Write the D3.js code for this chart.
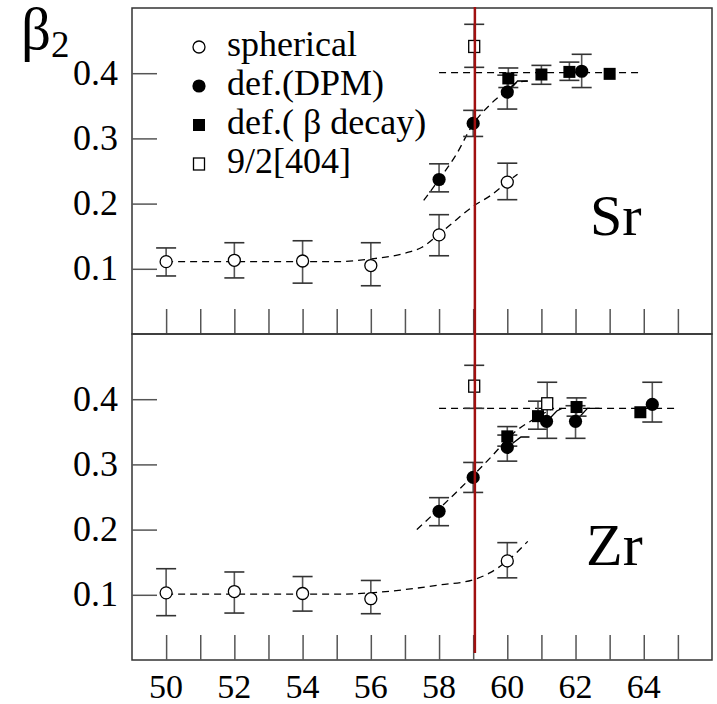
<!DOCTYPE html>
<html><head><meta charset="utf-8">
<script src="https://cdn.jsdelivr.net/npm/d3@7"></script>
<style>body{margin:0;background:#fff;font-family:"Liberation Serif"}svg{display:block}</style>
</head><body><svg id="c" width="717" height="704" font-family="Liberation Serif">
<text x="21" y="49" font-family="Liberation Serif"><tspan font-size="59">β</tspan><tspan font-size="37" dy="8">2</tspan></text>
</svg>
<script>
// ---------- data ----------
const xTicks = d3.range(50, 66);
const xLabels = [50, 52, 54, 56, 58, 60, 62, 64];
const yTicks = [0.1, 0.2, 0.3, 0.4];
const redLineN = 59.05;
const legendItems = ["spherical", "def.(DPM)", "def.( β decay)", "9/2[404]"];
const legendSymbols = ["openCircle", "filledCircle", "filledSquare", "openSquare"];

// Sr panel
const srSpherical = [
  {n:50, b:0.111, lo:0.089, hi:0.132}, {n:52, b:0.113, lo:0.086, hi:0.140},
  {n:54, b:0.112, lo:0.078, hi:0.143}, {n:56, b:0.105, lo:0.074, hi:0.140},
  {n:58, b:0.152, lo:0.120, hi:0.183}, {n:60, b:0.233, lo:0.206, hi:0.262}];
const srDPM = [
  {n:58, b:0.237, lo:0.218, hi:0.261}, {n:59, b:0.323, lo:0.303, hi:0.343},
  {n:60, b:0.371, lo:0.345, hi:0.397}, {n:62.18, b:0.403, lo:0.378, hi:0.429}];
const srBeta = [
  {n:60.03, b:0.392, lo:0.378, hi:0.408}, {n:61, b:0.398, lo:0.383, hi:0.412},
  {n:61.82, b:0.402, lo:0.389, hi:0.417}, {n:63, b:0.399}];
const sr404 = [{n:59.03, b:0.441, lo:0.409, hi:0.475}];
const srSphFit = [[50,0.111],[55,0.111],[56,0.115],[57,0.124],[57.5,0.133],[58,0.153],[58.5,0.175],[59,0.196],[59.5,0.212],[60,0.233],[60.3,0.245]];
const srDefFit = [[57.55,0.205],[58,0.237],[58.5,0.275],[59,0.322],[59.5,0.352],[60,0.374],[60.3,0.386],[60.6,0.388]];
const srPlateau = [[58,0.401],[63.85,0.401]];
const srTails = [[[60.1,0.376],[60.3,0.388],[60.6,0.388]]];

// Zr panel
const zrSpherical = [
  {n:50, b:0.103, lo:0.068, hi:0.140}, {n:52, b:0.105, lo:0.072, hi:0.135},
  {n:54, b:0.102, lo:0.075, hi:0.128}, {n:56, b:0.094, lo:0.071, hi:0.122},
  {n:60, b:0.152, lo:0.126, hi:0.180}];
const zrDPM = [
  {n:58, b:0.228, lo:0.206, hi:0.249}, {n:59, b:0.280, lo:0.257, hi:0.303},
  {n:60, b:0.326, lo:0.305, hi:0.345}, {n:61.15, b:0.366},
  {n:62, b:0.366, lo:0.340, hi:0.390}, {n:64.25, b:0.392, lo:0.365, hi:0.426}];
const zrBeta = [
  {n:60, b:0.343, lo:0.328, hi:0.358}, {n:60.9, b:0.374, lo:0.354, hi:0.397},
  {n:62.03, b:0.388, lo:0.374, hi:0.402}, {n:63.9, b:0.380}];
const zr404 = [{n:59.03, b:0.420, lo:0.386, hi:0.452}, {n:61.17, b:0.393, lo:0.340, hi:0.426}];
const zrSphFit = [[50,0.101],[55,0.101],[56,0.103],[57,0.108],[58,0.115],[59,0.123],[59.5,0.134],[60,0.152],[60.6,0.182]];
const zrDefFit = [[57.35,0.2],[58,0.232],[58.5,0.257],[59,0.283],[59.5,0.31],[60.2,0.349],[60.8,0.37],[61.3,0.385]];
const zrPlateau = [[58,0.386],[65,0.386]];
const zrTails = [[[60.15,0.332],[60.4,0.342],[60.65,0.342]],
                 [[61.2,0.368],[61.45,0.382],[61.6,0.386]],
                 [[62.1,0.372],[62.35,0.386],[62.7,0.386]]];

const panels = [
  {label:"Sr", sph:srSpherical, dpm:srDPM, beta:srBeta, o404:sr404, sphFit:srSphFit, defFit:srDefFit, plateau:srPlateau, tails:srTails, top:8, bottom:334, lx:590, ly:235, lfs:58},
  {label:"Zr", sph:zrSpherical, dpm:zrDPM, beta:zrBeta, o404:zr404, sphFit:zrSphFit, defFit:zrDefFit, plateau:zrPlateau, tails:zrTails, top:334, bottom:660, lx:586, ly:565, lfs:60}
];

// ---------- drawing ----------
const svg = d3.select("#c");
const FONT = "Liberation Serif";
const L = 132, R = 712;
const x = d3.scaleLinear().domain([49, 66]).range([L, R]);
const grey = "#555";

function marker(g, type, cx, cy) {
  if (type === "openCircle") g.append("circle").attr("cx",cx).attr("cy",cy).attr("r",6).attr("fill","#fff").attr("stroke","#000").attr("stroke-width",1.3);
  else if (type === "filledCircle") g.append("circle").attr("cx",cx).attr("cy",cy).attr("r",6.6).attr("fill","#000");
  else if (type === "filledSquare") g.append("rect").attr("x",cx-6).attr("y",cy-6).attr("width",12).attr("height",12).attr("fill","#000");
  else g.append("rect").attr("x",cx-5.5).attr("y",cy-6).attr("width",11).attr("height",12).attr("fill","#fff").attr("stroke","#000").attr("stroke-width",1.3);
}

panels.forEach(p => {
  const y = d3.scaleLinear().domain([0, 0.5]).range([p.bottom, p.top]);
  const g = svg.append("g");
  g.append("rect").attr("x",L).attr("y",p.top).attr("width",R-L).attr("height",p.bottom-p.top)
    .attr("fill","none").attr("stroke","#333").attr("stroke-width",1.5);
  const xa = d3.axisBottom(x).tickValues(xTicks).tickSize(-25).tickFormat("");
  const xg = g.append("g").attr("transform",`translate(0,${p.bottom})`).call(xa);
  xg.attr("font-family", FONT);
  xg.select(".domain").remove();
  xg.selectAll("line").attr("stroke",grey).attr("stroke-width",1.5);
  const ya = d3.axisLeft(y).tickValues(yTicks).tickSize(-25).tickPadding(14).tickFormat(d3.format(".1f"));
  const yg = g.append("g").attr("transform",`translate(${L},0)`).call(ya);
  yg.attr("font-family", FONT).attr("font-size", 36);
  yg.select(".domain").remove();
  yg.selectAll("line").attr("stroke",grey).attr("stroke-width",1.5);
  yg.selectAll("text").attr("font-family",FONT).style("font-family","'Liberation Serif'").attr("font-size",36).attr("fill","#000").attr("dy","0.3em");

  const line = d3.line().x(d=>x(d[0])).y(d=>y(d[1])).curve(d3.curveMonotoneX);
  const straight = d3.line().x(d=>x(d[0])).y(d=>y(d[1]));
  [p.sphFit, p.defFit, p.plateau].forEach(c => {
    g.append("path").attr("d", line(c)).attr("fill","none").attr("stroke","#000")
      .attr("stroke-width",1.3).attr("stroke-dasharray","7,5");
  });
  p.tails.forEach(t => g.append("path").attr("d", straight(t)).attr("fill","none").attr("stroke","#000").attr("stroke-width",1.3));

  const all = [].concat(p.sph, p.dpm, p.beta, p.o404).filter(d => d.lo !== undefined);
  all.forEach(d => {
    const cx = x(d.n);
    g.append("line").attr("x1",cx).attr("x2",cx).attr("y1",y(d.lo)).attr("y2",y(d.hi)).attr("stroke",grey).attr("stroke-width",1.6);
    [d.lo, d.hi].forEach(v => g.append("line").attr("x1",cx-10).attr("x2",cx+10).attr("y1",y(v)).attr("y2",y(v)).attr("stroke","#333").attr("stroke-width",1.6));
  });
  p.sph.forEach(d => marker(g, "openCircle", x(d.n), y(d.b)));
  p.o404.forEach(d => marker(g, "openSquare", x(d.n), y(d.b)));
  p.beta.forEach(d => marker(g, "filledSquare", x(d.n), y(d.b)));
  p.dpm.forEach(d => marker(g, "filledCircle", x(d.n), y(d.b)));

  g.append("text").attr("font-family",FONT).style("font-family","'Liberation Serif'").attr("x",p.lx).attr("y",p.ly).attr("font-size",p.lfs).text(p.label);
});

xLabels.forEach(v => {
  svg.append("text").attr("font-family",FONT).style("font-family","'Liberation Serif'").attr("x",x(v)).attr("y",698).attr("text-anchor","middle")
    .attr("font-size",34).text(v);
});

svg.append("line").attr("x1",x(redLineN)).attr("x2",x(redLineN)).attr("y1",7).attr("y2",653)
  .attr("stroke","#a01010").attr("stroke-width",2.5);

legendItems.forEach((t, i) => {
  const cy = 47 + i * 39;
  const lg = svg.append("g");
  marker(lg, legendSymbols[i], 199, cy);
  lg.append("text").attr("font-family",FONT).style("font-family","'Liberation Serif'").attr("x",227).attr("y",cy+9).attr("font-size",36).text(t);
});
</script></body></html>
